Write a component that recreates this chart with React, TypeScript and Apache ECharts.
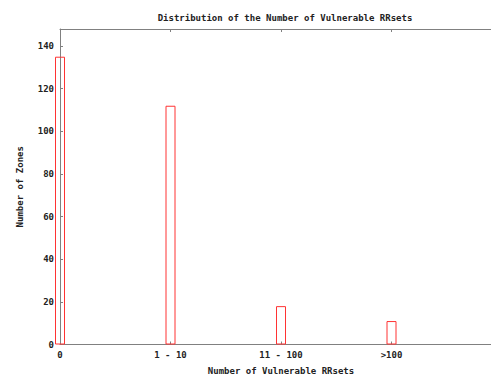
import React, { useEffect, useRef } from "react";
import * as echarts from "echarts";

const categories = ["0", "1 - 10", "11 - 100", ">100"];
const positions = [0, 1, 2, 3];
const zoneCounts = [135, 112, 18, 11];
const yTicks = [0, 20, 40, 60, 80, 100, 120, 140];

const FONT = "DejaVu Sans Mono";

export default function App() {
  const ref = useRef<HTMLDivElement>(null);
  useEffect(() => {
    if (!ref.current) return;
    const chart = echarts.init(ref.current, null, { renderer: "svg" });
    const axisColor = "#808080";
    const textStyle = { fontFamily: FONT, fontWeight: "bold" as const, fontSize: 9, color: "#222" };
    chart.setOption({
      animation: false,
      backgroundColor: "#fff",
      title: {
        text: "Distribution of the Number of Vulnerable RRsets",
        left: 280,
        top: 8,
        textAlign: "center",
        textStyle: { ...textStyle },
      },
      grid: {
        left: 60,
        top: 29,
        width: 442,
        bottom: 31.5,
        containLabel: false,
        outerBoundsMode: "none",
      },
      xAxis: [
        {
          type: "value",
          min: 0,
          max: 4,
          interval: 1,
          position: "bottom",
          name: "Number of Vulnerable RRsets",
          nameLocation: "middle",
          nameGap: 22,
          nameTextStyle: { ...textStyle },
          axisLine: { show: true, onZero: false, lineStyle: { color: axisColor, width: 1 } },
          axisTick: { show: true, inside: true, length: 3, lineStyle: { color: axisColor } },
          axisLabel: {
            ...textStyle,
            margin: 6,
            formatter: (v: number) => {
              const i = positions.indexOf(v);
              return i >= 0 ? categories[i] : "";
            },
          },
          splitLine: { show: false },
        },
        {
          type: "value",
          min: 0,
          max: 4,
          interval: 1,
          position: "top",
          axisLine: { show: true, onZero: false, lineStyle: { color: axisColor, width: 1 } },
          axisTick: { show: true, inside: true, length: 3, lineStyle: { color: axisColor } },
          axisLabel: { show: false },
          splitLine: { show: false },
        },
      ],
      yAxis: {
        type: "value",
        min: 0,
        max: 148,
        interval: 20,
        name: "Number of Zones",
        nameLocation: "middle",
        nameGap: 36,
        nameRotate: 90,
        nameTextStyle: { ...textStyle },
        axisLine: { show: true, lineStyle: { color: axisColor, width: 1 } },
        axisTick: { show: true, inside: true, length: 3, lineStyle: { color: axisColor } },
        axisLabel: {
          ...textStyle,
          margin: 6,
          formatter: (v: number) => (yTicks.indexOf(v) >= 0 ? String(v) : ""),
        },
        splitLine: { show: false },
      },
      series: [
        {
          type: "bar",
          xAxisIndex: 0,
          barWidth: 10,
          clip: true,
          data: positions.map((p, i) => [p, zoneCounts[i]]),
          itemStyle: { color: "rgba(255,255,255,0)", borderColor: "#ff3333", borderWidth: 1 },
        },
      ],
    });
    return () => chart.dispose();
  }, []);
  return <div ref={ref} style={{ width: 491, height: 376, position: "absolute", left: 0, top: 0 }} />;
}
